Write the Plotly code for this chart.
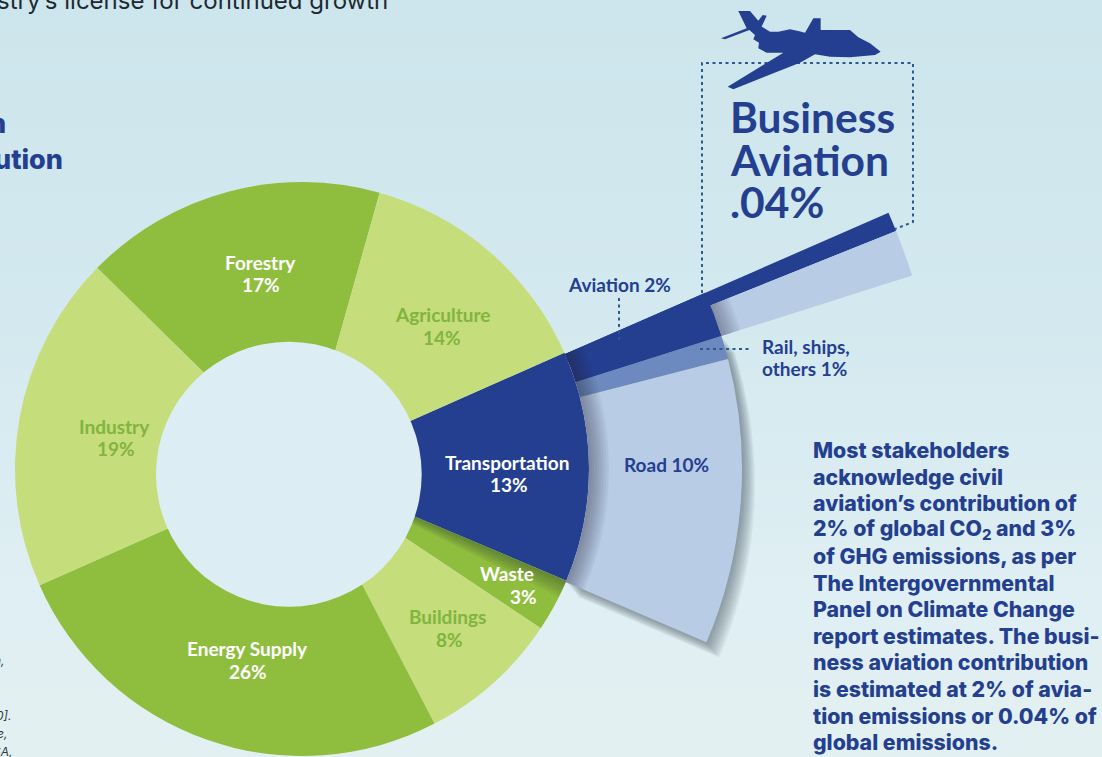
import plotly.graph_objects as go
import math

W, H = 1102, 757

# --- data -----------------------------------------------------------------
sectors = ["Transportation", "Waste", "Buildings", "Energy Supply", "Industry", "Forestry", "Agriculture"]
sector_pct = [13, 3, 8, 26, 19, 17, 14]
sector_colors = ["#243f90", "#8fbe3f", "#c5dd7b", "#8fbe3f", "#c5dd7b", "#8fbe3f", "#c5dd7b"]

# breakdown of the transportation slice, as drawn (share of the whole ring, %)
transport_parts = ["Business aviation", "Other aviation", "Rail, ships, others", "Road"]
transport_pct = [0.49, 1.18, 0.86, 10.47]
transport_colors = ["#243f90", "#b8cce6", "#6c8abf", "#b8cce6"]
transport_outer = [640, 640, 440, 440]

body_lines = ["Most stakeholders", "acknowledge civil", "aviation’s contribution of",
              "2% of global CO<sub>2</sub> and 3%", "of GHG emissions, as per", "The Intergovernmental",
              "Panel on Climate Change", "report estimates. The busi-", "ness aviation contribution",
              "is estimated at 2% of avia-", "tion emissions or 0.04% of", "global emissions."]

# --- geometry ---------------------------------------------------------------
CX, CY, R_IN = 302, 469, 287
START = 23.9
WEDGE_START = 23.6
DEG = 3.6
DARK = "#243f90"
LATO = "Lato"


def px(x):
    return x / W


def py(y):
    return 1 - y / H


def domain(cx, cy, R, s0, s1):
    top = R * math.sin(math.radians(s1))
    bot = -R * math.sin(math.radians(s0))
    return dict(x=[px(cx), px(cx + R)], y=[py(cy + bot), py(cy - top)])


def polar_layout(dom, R, sector=None, rotation=START):
    d = dict(domain=dom, bgcolor="rgba(0,0,0,0)",
             radialaxis=dict(visible=False, range=[0, R]),
             angularaxis=dict(visible=False, rotation=rotation, direction="clockwise"))
    if sector:
        d["sector"] = sector
    return d


def mids(vals):
    out, c = [], 0
    for v in vals:
        out.append((c + v / 2) * DEG)
        c += v
    return out


fig = go.Figure()
polars = {}

# drop shadow layers of the road / rail wedge
t_mid = mids(transport_pct)
road_rail = transport_pct[2] + transport_pct[3]
road_rail_mid = (transport_pct[0] + transport_pct[1] + road_rail / 2) * DEG
N_SH = 8
for i in range(N_SH):
    k = N_SH - i
    name = "polar" if i == 0 else f"polar{i + 1}"
    polars[name] = polar_layout(domain(CX + k * 1.6, CY + k * 1.9, 460, -25, 20), 460, [-25, 20], WEDGE_START)
    fig.add_trace(go.Barpolar(r=[440 - R_IN], base=[R_IN], theta=[road_rail_mid], width=[road_rail * DEG],
                              marker=dict(color="rgba(60,75,85,0.08)", line=dict(width=0)),
                              subplot=name, showlegend=False))

# the ring
RING = f"polar{N_SH + 1}"
polars[RING] = polar_layout(dict(x=[px(CX - R_IN - 1), px(CX + R_IN + 1)], y=[py(CY + R_IN + 1), py(CY - R_IN - 1)]),
                            R_IN + 1)
fig.add_trace(go.Barpolar(r=[R_IN] * len(sectors), theta=mids(sector_pct), width=[v * DEG for v in sector_pct],
                          marker=dict(color=sector_colors, line=dict(width=0)), subplot=RING,
                          hovertext=sectors, showlegend=False))
# shadow the transportation slice casts on the waste slice
for w in [3.6, 3.0, 2.4, 1.8, 1.2, 0.6]:
    fig.add_trace(go.Barpolar(r=[R_IN], theta=[sector_pct[0] * DEG + w / 2], width=[w],
                              marker=dict(color="rgba(40,60,40,0.075)", line=dict(width=0)),
                              subplot=RING, showlegend=False))

# the exploded transportation wedges
WEDGE = f"polar{N_SH + 2}"
polars[WEDGE] = polar_layout(domain(CX, CY, 660, -25, 25), 660, [-25, 25], WEDGE_START)
fig.add_trace(go.Barpolar(r=[o - R_IN for o in transport_outer], base=[R_IN] * 4, theta=t_mid,
                          width=[v * DEG for v in transport_pct],
                          marker=dict(color=transport_colors, line=dict(width=0)), subplot=WEDGE,
                          hovertext=transport_parts, showlegend=False))
# aviation segment: dark up to the arc, light beyond it
av_w = (transport_pct[0] + transport_pct[1]) * DEG
fig.add_trace(go.Barpolar(r=[440 - R_IN], base=[R_IN], theta=[av_w / 2], width=[av_w],
                          marker=dict(color=DARK, line=dict(width=0)), subplot=WEDGE, showlegend=False))
# shadows of the slice edge and of the aviation arc
whole = sum(transport_pct) * DEG
for dr in [20, 17.5, 15, 12.5, 10, 7.5, 5, 2.5]:
    fig.add_trace(go.Barpolar(r=[dr], base=[R_IN], theta=[whole / 2], width=[whole],
                              marker=dict(color="rgba(30,40,60,0.055)", line=dict(width=0)),
                              subplot=WEDGE, showlegend=False))
    fig.add_trace(go.Barpolar(r=[dr], base=[440], theta=[(transport_pct[0] + transport_pct[1] / 2) * DEG],
                              width=[transport_pct[1] * DEG],
                              marker=dict(color="rgba(30,40,60,0.05)", line=dict(width=0)),
                              subplot=WEDGE, showlegend=False))

# --- background, hole, leaders, plane ---------------------------------------
stops = [(0, (205, 229, 236)), (300, (211, 233, 239)), (600, (224, 239, 243)), (757, (227, 240, 242))]
shapes = []
for y in range(0, H, 16):
    for (y0, c0), (y1, c1) in zip(stops, stops[1:]):
        if y0 <= y <= y1:
            t = (y - y0) / (y1 - y0)
            col = tuple(round(a + (b - a) * t) for a, b in zip(c0, c1))
            break
    shapes.append(dict(type="rect", xref="paper", yref="paper", layer="below", x0=0, x1=1,
                       y0=py(y + 17), y1=py(y), fillcolor=f"rgb{col}", line=dict(width=0)))

shapes.append(dict(type="circle", xref="paper", yref="paper", layer="above",
                   x0=px(156), x1=px(421.7), y0=py(606.7), y1=py(341.7), fillcolor="#ddedf4", line=dict(width=0)))


def leader(pts):
    path = "M" + " L".join(f"{px(x):.5f},{py(y):.5f}" for x, y in pts)
    return dict(type="path", xref="paper", yref="paper", layer="above", path=path,
                line=dict(color="#2a5a8f", width=2, dash="3px,3.5px"))


shapes.append(leader([(702, 293), (702, 63), (913, 63), (913, 222), (895, 229)]))
shapes.append(leader([(619, 298), (619, 340)]))
shapes.append(leader([(700, 349), (752, 349)]))

plane = [(145, 33), (180, 33), (205, 62), (218, 45), (230, 47), (215, 80), (240, 95), (265, 95), (300, 88), (325, 93),
         (345, 98), (370, 55), (392, 55), (392, 90), (480, 90), (505, 112), (540, 130), (572, 155), (555, 165),
         (480, 172), (420, 170), (375, 163), (330, 188), (130, 268), (113, 260), (280, 158), (230, 158), (205, 145),
         (207, 128), (190, 118), (195, 105), (178, 90), (105, 118), (93, 115), (170, 85)]
plane_path = "M" + " L".join(f"{px(690 + x / 3):.5f},{py(y / 3):.5f}" for x, y in plane) + " Z"
shapes.append(dict(type="path", xref="paper", yref="paper", layer="above", path=plane_path,
                   fillcolor=DARK, line=dict(width=0)))

# --- text ------------------------------------------------------------------
ann = []


def note(x, y, text, size=19, color=DARK, anchor="center", family=LATO, weight="bold", style="normal"):
    ann.append(dict(x=px(x), y=py(y), xref="paper", yref="paper", text=text, showarrow=False,
                    xanchor=anchor, yanchor="middle", align=anchor,
                    font=dict(family=family, size=size, color=color, weight=weight, style=style)))


GREEN_TXT = "#82b440"
for x, y, t, c in [(260, 262, "Forestry", "white"), (261, 285, "17%", "white"),
                   (442, 314, "Agriculture", GREEN_TXT), (442, 337, "14%", GREEN_TXT),
                   (114, 426, "Industry", GREEN_TXT), (116, 448, "19%", GREEN_TXT),
                   (247, 648, "Energy Supply", "white"), (248, 671, "26%", "white"),
                   (447, 616, "Buildings", GREEN_TXT), (449, 639, "8%", GREEN_TXT),
                   (507, 462, "Transportation", "white"), (509, 484, "13%", "white"),
                   (507, 573, "Waste", "white"), (523, 596, "3%", "white")]:
    note(x, y, t, color=c)
note(666, 464, "Road 10%")
note(619, 284, "Aviation 2%")
note(760, 346, "Rail, ships,", anchor="left")
note(760, 368, "others 1%", anchor="left")
for y, t in [(116, "Business"), (159, "Aviation"), (201, ".04%")]:
    note(728, y, t, size=42.5, anchor="left")
for i, line in enumerate(body_lines):
    note(811, 450 + i * 26.55, line, size=21.3, anchor="left", family="Inter", weight=800)

note(390, 0, "stry’s license for continued growth", size=24, color="#1d2a33", anchor="right", family="Inter", weight=400)
note(8, 123, "n", size=27, anchor="right", family="Inter", weight=800)
note(65, 159, "ution", size=27, anchor="right", family="Inter", weight=800)
for y, t, x in [(660, "n,", 7), (715, "0].", 13), (733, "e,", 9), (751, "SA,", 14)]:
    note(x, y, t, size=12, color="#33393d", anchor="right", family="Inter", weight=400, style="italic")

fig.update_layout(width=W, height=H, margin=dict(l=0, r=0, t=0, b=0, pad=0), paper_bgcolor="#d5eaf0",
                  plot_bgcolor="rgba(0,0,0,0)", showlegend=False, shapes=shapes, annotations=ann, **polars)
fig.write_html("out.html", config={"displayModeBar": False},
               post_script="document.body.style.margin='0';document.body.style.overflow='hidden';")
